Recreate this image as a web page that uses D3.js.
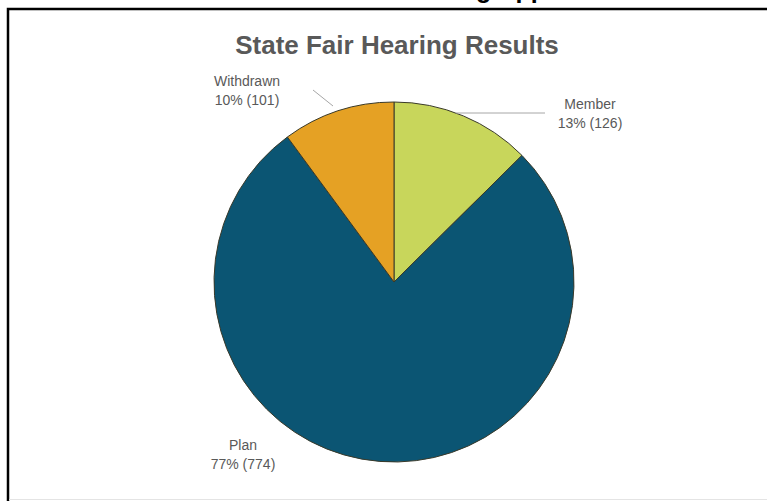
<!DOCTYPE html>
<html>
<head>
<meta charset="utf-8">
<script src="https://cdn.jsdelivr.net/npm/d3@7"></script>
<style>
  html, body { margin: 0; padding: 0; background: #fff; }
  svg { display: block; font-family: "Liberation Sans", Arial, sans-serif; }
</style>
</head>
<body>
<svg id="chart" width="767" height="501"></svg>
<script>
// chart data
const categories = ["Member", "Plan", "Withdrawn"];
const counts = [126, 774, 101];
const percentLabels = ["13%", "77%", "10%"];
const sliceColors = ["#c8d65b", "#0b5573", "#e5a124"];

const svg = d3.select("#chart");
const width = 767;
const cx = 394, cy = 282, radius = 180;

// heading of the page above the chart frame, mostly cut off by the top edge
svg.append("text")
  .attr("x", 436)
  .attr("y", -2)
  .attr("text-anchor", "middle")
  .attr("font-size", 25)
  .attr("font-weight", "bold")
  .attr("fill", "#000")
  .text("State Fair Hearing Appeals");

// frame
svg.append("path")
  .attr("d", `M8,501 L8,9 L${width},9`)
  .attr("fill", "none")
  .attr("stroke", "#000")
  .attr("stroke-width", 2.5);
svg.append("line")
  .attr("x1", 9).attr("x2", width)
  .attr("y1", 499.5).attr("y2", 499.5)
  .attr("stroke", "#e4e4e4");

// title
svg.append("text")
  .attr("x", 397)
  .attr("y", 54)
  .attr("text-anchor", "middle")
  .attr("font-size", 26)
  .attr("font-weight", "bold")
  .attr("fill", "#595959")
  .text("State Fair Hearing Results");

const data = categories.map((c, i) => ({ name: c, value: counts[i], pct: percentLabels[i], color: sliceColors[i] }));

const pie = d3.pie().sort(null).value(d => d.value);
const arc = d3.arc().innerRadius(0).outerRadius(radius);
const arcs = pie(data);

const g = svg.append("g").attr("transform", `translate(${cx},${cy})`);

g.selectAll("path")
  .data(arcs)
  .join("path")
  .attr("d", arc)
  .attr("fill", d => d.data.color)
  .attr("stroke", "#3a3a2a")
  .attr("stroke-width", 1);

// labels and leader lines
const labelPos = {
  Member: { x: 590, y: 109, line: [[456, 113], [545, 113]] },
  Plan: { x: 243, y: 450, line: null },
  Withdrawn: { x: 247, y: 86, line: [[313, 90], [333, 106]] }
};

arcs.forEach(a => {
  const p = labelPos[a.data.name];
  if (p.line) {
    svg.append("line")
      .attr("x1", p.line[0][0]).attr("y1", p.line[0][1])
      .attr("x2", p.line[1][0]).attr("y2", p.line[1][1])
      .attr("stroke", "#a6a6a6")
      .attr("stroke-width", 1);
  }
  const t = svg.append("text")
    .attr("x", p.x)
    .attr("y", p.y)
    .attr("text-anchor", "middle")
    .attr("font-size", 14)
    .attr("fill", "#595959");
  t.append("tspan").attr("x", p.x).text(a.data.name);
  t.append("tspan").attr("x", p.x).attr("dy", 18.5).text(`${a.data.pct} (${a.data.value})`);
});
</script>
</body>
</html>
